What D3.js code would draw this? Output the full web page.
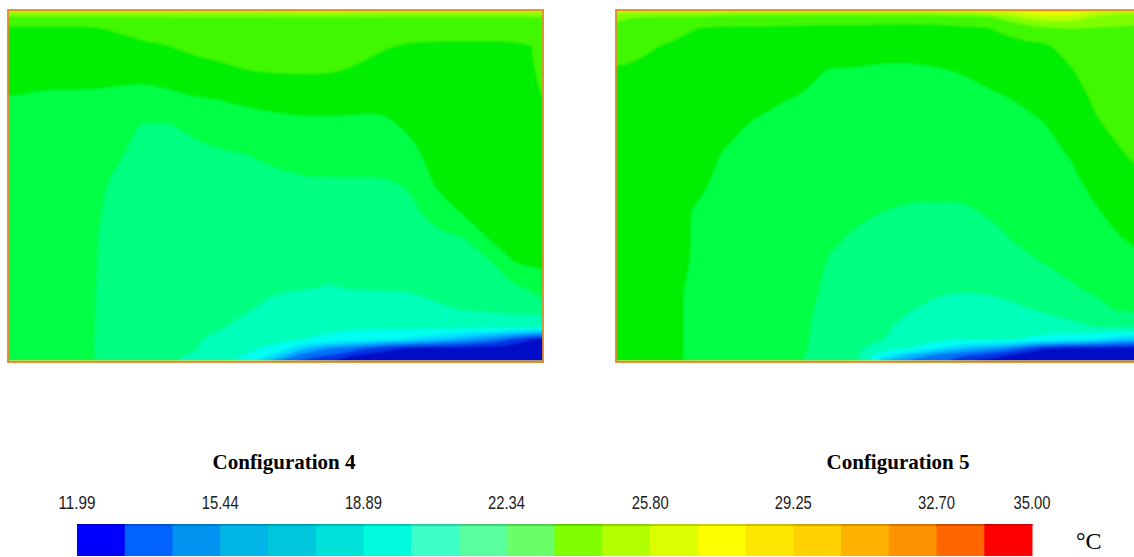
<!DOCTYPE html>
<html>
<head>
<meta charset="utf-8">
<script src="https://cdn.jsdelivr.net/npm/d3@7"></script>
<style>
  html, body { margin: 0; padding: 0; background: #ffffff; }
  svg { display: block; }
</style>
</head>
<body>
<svg id="chart" width="1134" height="557"></svg>
<script>
// ---- Temperature scale (°C) ----
const tempMin = 11.99;
const tempMax = 35.00;
const bandCount = 20;
const tickValues = [11.99, 15.44, 18.89, 22.34, 25.80, 29.25, 32.70, 35.00];
const tickLabels = ["11.99", "15.44", "18.89", "22.34", "25.80", "29.25", "32.70", "35.00"];
const unitLabel = "°C";

// Colour of each band in the legend strip (coldest first)
const legendColors = [
  "#0000ff", "#0062ff", "#0094f0", "#00b4e6", "#00c8dc",
  "#00e0da", "#00fadc", "#3cffc8", "#58ff9c", "#68ff68",
  "#80ff00", "#b2ff00", "#dcff00", "#ffff00", "#ffe600",
  "#ffd000", "#ffb200", "#ff9200", "#ff6600", "#ff0000"
];
// Colour of each band inside the room sections
const fieldColors = [
  "#0008c8", "#0034e6", "#0070f6", "#00a8ff", "#00dcff",
  "#00fff0", "#00ffb8", "#00ff80", "#00ff44", "#00ee00",
  "#40f800", "#80ff00", "#b8ff00", "#e8ff00", "#ffe800",
  "#ffc000", "#ff9800", "#ff7000", "#ff4000", "#ff0000"
];

// ---- Sampling stations in the room section (fraction of width / height) ----
const colStations = [0, 0.02, 0.06, 0.10, 0.15, 0.20, 0.25, 0.30, 0.35, 0.40, 0.45, 0.50,
                     0.55, 0.60, 0.65, 0.70, 0.75, 0.80, 0.85, 0.90, 0.94, 0.98, 1];
const rowStations = [0, 0.02, 0.05, 0.10, 0.17, 0.25, 0.33, 0.41, 0.49, 0.57, 0.65, 0.72,
                     0.79, 0.85, 0.90, 0.935, 0.96, 0.98, 1];

// ---- Temperatures, one array per column station, ceiling to floor ----
const config4Temps = [
  [26.5, 24.4, 23.4, 23.2, 22.8, 22.3, 22.0, 21.8, 21.7, 21.6, 21.6, 21.6, 21.6, 21.5, 21.5, 21.5, 21.5, 21.5, 21.5],
  [26.5, 24.4, 23.4, 23.2, 22.8, 22.3, 22.0, 21.8, 21.7, 21.6, 21.6, 21.6, 21.6, 21.5, 21.5, 21.5, 21.5, 21.5, 21.5],
  [26.5, 24.4, 23.4, 23.1, 22.7, 22.2, 21.9, 21.8, 21.7, 21.6, 21.6, 21.6, 21.6, 21.5, 21.5, 21.5, 21.5, 21.5, 21.5],
  [26.5, 24.4, 23.4, 23.1, 22.7, 22.2, 21.9, 21.7, 21.6, 21.6, 21.5, 21.5, 21.5, 21.5, 21.5, 21.5, 21.5, 21.5, 21.5],
  [26.5, 24.4, 23.4, 23.1, 22.7, 22.2, 21.8, 21.5, 21.4, 21.4, 21.4, 21.4, 21.4, 21.4, 21.4, 21.4, 21.4, 21.4, 21.4],
  [26.5, 24.5, 23.6, 23.2, 22.7, 22.1, 21.7, 21.3, 21.1, 21.0, 20.8, 20.8, 20.7, 20.6, 20.6, 20.5, 20.5, 20.5, 20.5],
  [26.5, 24.5, 24.0, 23.3, 22.7, 21.9, 21.1, 21.0, 20.8, 20.7, 20.6, 20.5, 20.5, 20.4, 20.4, 20.3, 20.3, 20.3, 20.2],
  [26.5, 24.6, 24.2, 23.5, 22.9, 22.1, 21.1, 21.0, 20.7, 20.6, 20.5, 20.4, 20.3, 20.3, 20.2, 20.2, 20.1, 20.1, 20.1],
  [26.5, 24.6, 24.3, 23.8, 23.1, 22.3, 21.4, 21.0, 20.8, 20.6, 20.5, 20.4, 20.3, 20.3, 20.2, 20.1, 20.1, 20.0, 19.9],
  [26.5, 24.6, 24.3, 23.9, 23.3, 22.4, 21.7, 21.1, 20.9, 20.7, 20.6, 20.5, 20.4, 20.2, 20.1, 19.8, 19.5, 19.3, 19.1],
  [26.5, 24.6, 24.4, 24.0, 23.5, 22.6, 21.9, 21.2, 21.0, 20.8, 20.6, 20.4, 20.2, 20.1, 19.6, 19.3, 19.1, 18.8, 18.1],
  [26.5, 24.6, 24.4, 24.1, 23.6, 22.7, 22.0, 21.4, 21.0, 20.8, 20.5, 20.3, 20.1, 19.8, 19.3, 19.1, 18.6, 17.4, 15.4],
  [26.8, 24.6, 24.4, 24.1, 23.6, 22.8, 22.1, 21.5, 21.1, 20.8, 20.5, 20.3, 20.1, 19.6, 19.2, 18.9, 16.8, 15.0, 13.8],
  [26.8, 24.6, 24.4, 24.1, 23.6, 22.8, 22.1, 21.6, 21.1, 20.7, 20.4, 20.2, 20.0, 19.5, 19.1, 18.6, 15.5, 14.3, 13.1],
  [26.6, 24.6, 24.4, 23.9, 23.4, 22.7, 22.1, 21.6, 21.1, 20.8, 20.5, 20.3, 20.1, 19.6, 19.1, 18.3, 14.9, 13.1, 12.7],
  [26.5, 24.6, 24.2, 23.6, 23.1, 22.6, 22.1, 21.6, 21.1, 20.8, 20.5, 20.3, 20.1, 19.6, 19.1, 18.0, 13.6, 12.8, 12.4],
  [26.5, 24.5, 24.0, 23.4, 23.1, 22.8, 22.5, 22.0, 21.3, 20.9, 20.6, 20.3, 20.1, 19.7, 19.2, 17.6, 13.0, 12.6, 12.2],
  [26.5, 24.5, 23.8, 23.4, 23.2, 23.1, 22.9, 22.7, 22.5, 21.8, 20.9, 20.6, 20.3, 19.9, 19.2, 16.9, 12.9, 12.5, 12.1],
  [26.5, 24.5, 23.8, 23.4, 23.3, 23.1, 22.9, 22.8, 22.6, 22.5, 21.1, 20.8, 20.4, 20.1, 19.2, 16.1, 12.8, 12.4, 12.0],
  [26.5, 24.5, 23.8, 23.4, 23.3, 23.1, 23.0, 22.8, 22.7, 22.5, 22.4, 21.0, 20.6, 20.2, 19.2, 15.3, 12.8, 12.4, 12.0],
  [26.5, 24.5, 23.8, 23.4, 23.3, 23.1, 23.0, 22.9, 22.7, 22.6, 22.5, 22.3, 20.9, 20.4, 19.2, 14.2, 12.7, 12.4, 12.0],
  [26.5, 24.6, 24.2, 23.5, 23.4, 23.2, 23.1, 23.0, 22.8, 22.7, 22.5, 22.5, 21.4, 20.4, 19.2, 13.1, 12.7, 12.3, 12.0],
  [26.5, 24.6, 24.5, 24.2, 23.9, 23.5, 23.3, 23.1, 23.0, 22.8, 22.6, 22.5, 21.9, 20.5, 19.2, 13.0, 12.6, 12.3, 12.0]
];

const config5Temps = [
  [26.5, 24.9, 24.4, 23.9, 23.4, 23.2, 23.0, 22.8, 22.8, 22.8, 22.8, 22.8, 22.7, 22.7, 22.7, 22.7, 22.7, 22.7, 22.7],
  [26.5, 24.7, 24.3, 23.9, 23.4, 23.2, 23.0, 22.8, 22.8, 22.8, 22.8, 22.7, 22.7, 22.7, 22.7, 22.7, 22.7, 22.7, 22.7],
  [26.5, 24.6, 24.3, 23.6, 23.3, 23.1, 22.9, 22.8, 22.7, 22.7, 22.6, 22.6, 22.6, 22.6, 22.6, 22.6, 22.6, 22.6, 22.6],
  [26.5, 24.5, 24.1, 23.4, 23.3, 23.1, 22.9, 22.7, 22.6, 22.5, 22.5, 22.5, 22.5, 22.5, 22.5, 22.5, 22.5, 22.5, 22.5],
  [26.5, 24.5, 23.5, 23.4, 23.2, 23.1, 22.9, 22.7, 22.5, 22.3, 22.3, 22.3, 22.2, 22.2, 22.2, 22.2, 22.2, 22.2, 22.2],
  [26.5, 24.2, 23.4, 23.3, 23.1, 22.8, 22.6, 22.3, 22.2, 22.2, 22.1, 22.0, 21.9, 21.9, 21.8, 21.8, 21.7, 21.7, 21.7],
  [26.5, 24.1, 23.4, 23.2, 22.9, 22.6, 22.3, 22.2, 22.1, 22.0, 21.9, 21.8, 21.8, 21.7, 21.6, 21.6, 21.5, 21.5, 21.5],
  [26.5, 24.1, 23.4, 23.1, 22.8, 22.4, 22.2, 22.1, 22.0, 21.9, 21.8, 21.7, 21.6, 21.5, 21.4, 21.4, 21.4, 21.3, 21.3],
  [26.5, 24.1, 23.3, 23.0, 22.6, 22.3, 22.2, 22.1, 21.9, 21.8, 21.7, 21.6, 21.5, 21.4, 21.3, 21.3, 21.3, 21.2, 21.2],
  [26.5, 24.1, 23.3, 22.9, 22.3, 22.2, 22.0, 21.8, 21.6, 21.5, 21.3, 21.1, 21.0, 20.9, 20.9, 20.8, 20.8, 20.7, 20.7],
  [26.5, 24.1, 23.3, 22.8, 22.3, 22.1, 21.9, 21.7, 21.5, 21.3, 21.1, 20.9, 20.7, 20.5, 20.4, 20.3, 20.2, 20.2, 20.1],
  [26.5, 24.1, 23.2, 22.7, 22.2, 22.0, 21.8, 21.6, 21.4, 21.2, 21.0, 20.7, 20.5, 20.3, 20.2, 20.1, 19.4, 18.0, 16.4],
  [26.5, 24.1, 23.2, 22.7, 22.2, 22.0, 21.8, 21.6, 21.4, 21.1, 20.8, 20.6, 20.3, 20.1, 19.6, 19.2, 18.9, 16.4, 14.9],
  [26.5, 24.1, 23.2, 22.8, 22.3, 22.0, 21.8, 21.6, 21.4, 21.1, 20.8, 20.5, 20.2, 19.8, 19.3, 19.0, 17.8, 15.2, 14.3],
  [26.8, 24.3, 23.4, 23.0, 22.4, 22.1, 21.9, 21.6, 21.4, 21.1, 20.8, 20.4, 20.1, 19.7, 19.3, 19.0, 16.6, 14.5, 13.1],
  [27.0, 24.5, 23.5, 23.2, 22.7, 22.2, 22.0, 21.8, 21.5, 21.3, 20.9, 20.5, 20.2, 19.7, 19.3, 19.0, 16.1, 13.5, 12.8],
  [27.5, 25.8, 24.0, 23.3, 22.8, 22.4, 22.1, 21.9, 21.7, 21.5, 21.3, 20.9, 20.4, 19.9, 19.3, 18.9, 14.9, 12.9, 12.4],
  [28.5, 26.6, 24.6, 23.3, 23.0, 22.6, 22.3, 22.1, 21.9, 21.6, 21.4, 21.2, 20.7, 20.2, 19.4, 18.5, 13.2, 12.6, 12.1],
  [28.5, 26.6, 24.7, 24.0, 23.4, 23.0, 22.7, 22.4, 22.1, 21.9, 21.6, 21.4, 21.1, 20.5, 19.8, 18.1, 13.0, 12.5, 12.0],
  [27.0, 25.4, 24.6, 24.4, 24.1, 23.7, 23.4, 23.0, 22.7, 22.3, 22.0, 21.7, 21.4, 20.9, 20.1, 17.7, 12.9, 12.4, 12.0],
  [26.5, 24.9, 24.6, 24.4, 24.2, 23.9, 23.7, 23.4, 23.1, 22.7, 22.3, 21.9, 21.6, 21.3, 20.1, 16.9, 12.8, 12.4, 12.0],
  [26.5, 24.8, 24.6, 24.5, 24.3, 24.1, 23.9, 23.7, 23.3, 22.9, 22.5, 22.2, 21.8, 21.4, 20.1, 16.5, 12.8, 12.4, 12.0],
  [26.5, 24.8, 24.6, 24.5, 24.4, 24.2, 24.0, 23.8, 23.4, 23.0, 22.6, 22.3, 21.9, 21.5, 20.2, 16.3, 12.8, 12.4, 12.0]
];

const panelTitles = ["Configuration 4", "Configuration 5"];

// ---- Layout ----
const svg = d3.select("#chart");
const panelW = 535, panelH = 352, panelTop = 10;
const panelLefts = [8, 616];
const titleY = 469;
const titleCenters = [284, 898];
const barLeft = 77, barRight = 1032, barTop = 524, barH = 32;
const labelY = 509;

const bandEdges = d3.range(bandCount).map(k => tempMin + k * (tempMax - tempMin) / bandCount);
const fieldColor = d3.scaleThreshold().domain(bandEdges.slice(1)).range(fieldColors);
const legendColor = d3.scaleThreshold().domain(bandEdges.slice(1)).range(legendColors);

const defs = svg.append("defs");
defs.append("filter").attr("id", "soft")
  .attr("x", "-5%").attr("y", "-5%").attr("width", "110%").attr("height", "110%")
  .append("feGaussianBlur").attr("stdDeviation", 0.9);

// stations extended a little past the walls so contour edges fall outside the clip
const pad = 0.05;
const colPad = [-pad, ...colStations, 1 + pad];
const rowPad = [-pad, ...rowStations, 1 + pad];
const nCols = colPad.length, nRows = rowPad.length;
const contourGen = d3.contours().size([nCols, nRows]).thresholds(bandEdges);
const ringLine = d3.line().curve(d3.curveBasisClosed);

function drawPanel(temps, left, idx) {
  const at = (i, j) => temps[Math.max(0, Math.min(temps.length - 1, i - 1))]
                            [Math.max(0, Math.min(rowStations.length - 1, j - 1))];
  const values = new Array(nCols * nRows);
  for (let j = 0; j < nRows; j++)
    for (let i = 0; i < nCols; i++) values[j * nCols + i] = at(i, j);

  const xIdx = d3.scaleLinear().domain(d3.range(nCols)).range(colPad.map(f => f * panelW));
  const yIdx = d3.scaleLinear().domain(d3.range(nRows)).range(rowPad.map(f => f * panelH));
  const px = g => xIdx(Math.max(0, Math.min(nCols - 1, g - 0.5)));
  const py = g => yIdx(Math.max(0, Math.min(nRows - 1, g - 0.5)));

  const toPath = geom => geom.coordinates.map(poly =>
    poly.map(ring => ringLine(ring.slice(0, -1).map(p => [px(p[0]), py(p[1])]))).join("")
  ).join("");

  defs.append("clipPath").attr("id", "room" + idx)
    .append("rect").attr("width", panelW).attr("height", panelH);

  const g = svg.append("g").attr("transform", `translate(${left},${panelTop})`);
  const clipped = g.append("g").attr("clip-path", `url(#room${idx})`);
  // base fill so smoothing never exposes the page behind
  clipped.append("rect").attr("width", panelW).attr("height", panelH)
    .attr("fill", fieldColor(d3.median(values)));
  const field = clipped.append("g").attr("filter", "url(#soft)");

  field.selectAll("path")
    .data(contourGen(values))
    .join("path")
    .attr("d", toPath)
    .attr("fill", d => fieldColor(d.value + 1e-6))
    .attr("fill-rule", "evenodd")
    .attr("stroke", d => fieldColor(d.value + 1e-6))
    .attr("stroke-width", 0.4);

  // heated walls around the section
  g.append("rect")
    .attr("x", 0).attr("y", 0).attr("width", panelW).attr("height", panelH)
    .attr("fill", "none").attr("stroke", "#e08a2c").attr("stroke-width", 1.8);
  g.append("line")
    .attr("x1", 1).attr("x2", panelW - 1).attr("y1", 1.6).attr("y2", 1.6)
    .attr("stroke", "#e6d020").attr("stroke-width", 1).attr("opacity", 0.8);
  g.append("line")
    .attr("x1", 1).attr("x2", panelW - 1).attr("y1", panelH - 1.4).attr("y2", panelH - 1.4)
    .attr("stroke", "#f0d060").attr("stroke-width", 1).attr("opacity", 0.8);
}

drawPanel(config4Temps, panelLefts[0], 0);
drawPanel(config5Temps, panelLefts[1], 1);

// ---- Titles ----
svg.selectAll("text.title")
  .data(panelTitles)
  .join("text")
  .attr("class", "title")
  .attr("x", (d, i) => titleCenters[i])
  .attr("y", titleY)
  .attr("text-anchor", "middle")
  .attr("font-family", "'Liberation Serif', 'Times New Roman', serif")
  .attr("font-weight", "bold")
  .attr("font-size", 21)
  .attr("fill", "#000")
  .text(d => d);

// ---- Legend strip ----
const xLegend = d3.scaleLinear().domain([tempMin, tempMax]).range([barLeft, barRight]);
const bands = bandEdges.map((lo, k) => ({ lo, hi: k + 1 < bandCount ? bandEdges[k + 1] : tempMax }));

const legend = svg.append("g");
legend.selectAll("rect.band")
  .data(bands)
  .join("rect")
  .attr("class", "band")
  .attr("x", d => xLegend(d.lo))
  .attr("y", barTop)
  .attr("width", d => xLegend(d.hi) - xLegend(d.lo) + 0.5)
  .attr("height", barH)
  .attr("fill", d => legendColor(d.lo + 1e-6));
legend.selectAll("rect.edge")
  .data(bands)
  .join("rect")
  .attr("class", "edge")
  .attr("x", d => xLegend(d.lo))
  .attr("y", barTop)
  .attr("width", d => xLegend(d.hi) - xLegend(d.lo) + 0.5)
  .attr("height", 2)
  .attr("fill", d => d3.color(legendColor(d.lo + 1e-6)).darker(0.9))
  .attr("opacity", 0.7);

legend.selectAll("text.tick")
  .data(tickValues)
  .join("text")
  .attr("class", "tick")
  .attr("x", d => xLegend(d))
  .attr("y", labelY)
  .attr("text-anchor", "middle")
  .attr("font-family", "'Liberation Sans Narrow', 'Liberation Sans', Arial, sans-serif")
  .attr("font-size", 19)
  .attr("textLength", 37)
  .attr("lengthAdjust", "spacingAndGlyphs")
  .attr("fill", "#1a1a1a")
  .text((d, i) => tickLabels[i]);

legend.append("text")
  .attr("x", 1076)
  .attr("y", 549)
  .attr("font-family", "'Liberation Serif', 'Times New Roman', serif")
  .attr("font-size", 24)
  .attr("fill", "#000")
  .text(unitLabel);
</script>
</body>
</html>
